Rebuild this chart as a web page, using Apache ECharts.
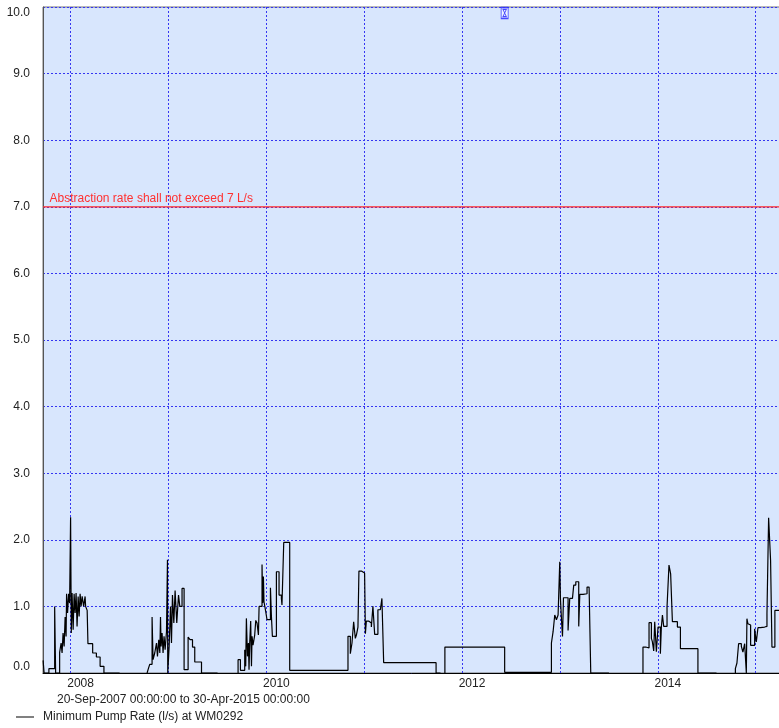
<!DOCTYPE html>
<html><head><meta charset="utf-8">
<script src="https://cdn.jsdelivr.net/npm/echarts@6/dist/echarts.min.js"></script>
<style>html,body{margin:0;padding:0;background:#fff}#c{width:779px;height:728px}</style>
</head><body><div id="c"></div><script>
const seriesName = 'Minimum Pump Rate (l/s) at WM0292';
const periodText = '20-Sep-2007 00:00:00 to 30-Apr-2015 00:00:00';
const periodStart = [2007, 9, 20];
const periodEnd = [2015, 4, 30];
const yMin = 0, yMax = 10, yStep = 1;
const xLabelYears = [2008, 2010, 2012, 2014];
const limitValue = 7;
const limitLabel = 'Abstraction rate shall not exceed 7 L/s';
const commentTimes = [2012.435];
const commentValues = [10];

// times as decimal years; null rate = no data (gap)
const pumpTimes = [
 2007.719,2007.729,2007.778,2007.837,2007.847,2007.888,2007.903,2007.913,2007.923,2007.934,
 2007.944,2007.954,2007.959,2007.969,2007.980,2007.990,2008.000,2008.007,2008.015,2008.026,
 2008.036,2008.046,2008.056,2008.066,2008.077,2008.087,2008.097,2008.107,2008.118,2008.133,
 2008.148,2008.153,2008.169,2008.177,2008.225,2008.263,2008.301,2008.340,2008.5,
 2008.780,2008.780,2008.794,2008.807,2008.831,2008.841,2008.858,2008.876,2008.886,2008.899,2008.910,
 2008.917,2008.923,2008.933,2008.943,2008.953,2008.964,2008.978,2008.988,2008.991,2009.005,
 2009.019,2009.029,2009.039,2009.053,2009.066,2009.083,2009.101,2009.114,2009.137,2009.158,
 2009.199,2009.219,2009.244,2009.267,2009.336,2009.5,
 2009.710,2009.710,2009.734,2009.778,2009.788,2009.795,2009.806,2009.816,2009.822,2009.829,2009.839,
 2009.847,2009.853,2009.863,2009.880,2009.891,2009.904,2009.918,2009.925,2009.955,2009.962,
 2009.969,2009.975,2009.993,2010.006,2010.041,2010.051,2010.061,2010.102,2010.129,2010.153,
 2010.159,2010.177,2010.238,2010.834,2010.858,2010.875,2010.892,2010.909,2010.920,2010.936,
 2010.946,2010.971,2011.004,2011.012,2011.022,2011.045,2011.073,2011.089,2011.107,2011.140,
 2011.165,2011.181,2011.199,2011.735,2011.78,
 2011.825,2011.825,2012.435,2012.912,2012.929,2012.946,2012.963,2012.980,2012.997,2013.004,
 2013.015,2013.025,2013.035,2013.082,2013.099,2013.127,2013.140,2013.161,2013.191,2013.202,
 2013.235,2013.276,2013.297,2013.314,2013.5,
 2013.848,2013.848,2013.876,2013.910,2013.934,2013.944,2013.958,2013.968,2013.985,2014.002,
 2014.026,2014.036,2014.047,2014.060,2014.094,2014.114,2014.131,2014.149,2014.200,2014.231,
 2014.410,2014.6,
 2014.793,2014.793,2014.809,2014.826,2014.854,2014.870,2014.888,2014.905,2014.911,2014.921,
 2014.939,2014.949,2014.990,2015.007,2015.024,2015.048,2015.092,2015.116,2015.133,2015.153,
 2015.167,2015.197,2015.329
];
const pumpRates = [
 0.19,0,0.065,1.0,0,0.31,0.45,0.3,0.6,0.4,
 0.84,0.55,1.19,0.9,1.19,1.05,2.34,0.6,1.2,0.65,
 1.19,0.9,1.2,0.7,1.15,0.85,1.19,1.0,1.15,1.0,
 1.15,1.0,0.94,0.44,0.3,0.24,0.1,0,null,
 0,0.03,0.07,0.13,0.84,0.2,0.3,0.45,0.25,0.5,0.3,
 0.84,0.4,0.6,0.3,0.55,0.35,0.62,1.7,0,0.4,
 1.0,0.45,1.17,0.75,1.24,0.75,1.17,1.0,1.27,0.05,
 0.54,0.5,0.39,0.165,0,null,
 0,0.2,0.04,0.35,0.1,0.82,0.25,0.45,0.05,0.45,0.78,
 0.1,0.55,0.42,0.57,0.79,0.75,0.57,1.0,1.63,1.05,
 1.45,1.07,0.92,0.8,1.28,0.85,0.55,1.52,1.17,1.12,
 1.02,1.96,0.04,0.55,0.29,0.45,0.77,0.52,0.57,0.69,
 1.53,1.5,1.49,0.59,0.78,0.75,0.69,1.0,0.58,0.95,
 0.97,1.12,0.155,0,null,
 0,0.39,0.01,0.45,0.62,0.87,0.8,0.87,1.67,1.12,
 0.79,0.55,1.13,0.64,1.12,1.1,1.32,1.37,0.7,1.18,
 1.19,1.29,1.27,0,null,
 0,0.39,0.375,0.755,0.52,0.47,0.33,0.77,0.32,0.69,
 0.29,0.69,0.87,0.7,0.99,1.62,1.49,0.77,0.69,0.365,
 0,null,
 0,0.065,0.15,0.44,0.4,0.315,0.44,0,0.815,0.74,
 0.72,0.415,0.665,0.465,0.68,0.69,0.7,0.89,2.33,1.69,
 0.39,0.94,0.94
];

function decYearToMs(d) {
  const y = Math.floor(d);
  const a = Date.UTC(y, 0, 1), b = Date.UTC(y + 1, 0, 1);
  return a + (d - y) * (b - a);
}
const xMin = Date.UTC(periodStart[0], periodStart[1] - 1, periodStart[2]);
const xMax = Date.UTC(periodEnd[0], periodEnd[1] - 1, periodEnd[2]);
const pumpData = pumpTimes.map((t, i) => [decYearToMs(t), pumpRates[i]]);
const commentData = commentTimes.map((t, i) => [decYearToMs(t), commentValues[i]]);
const limitData = [[xMin, limitValue], [xMax, limitValue]];

const FONT = '"Liberation Sans", Arial, sans-serif';
const GRID_BLUE = '#3535f2';
const chart = echarts.init(document.getElementById('c'), null, {renderer: 'canvas'});
chart.setOption({
  useUTC: true,
  animation: false,
  backgroundColor: '#ffffff',
  textStyle: {fontFamily: FONT},
  title: {
    text: periodText, left: 57, top: 694, padding: 0,
    textStyle: {fontSize: 12, fontWeight: 'normal', color: '#222', fontFamily: FONT}
  },
  legend: {
    left: 16, top: 711, padding: 0,
    icon: 'rect', itemWidth: 18, itemHeight: 1,
    itemStyle: {color: '#000'},
    textStyle: {fontSize: 12, color: '#222', fontFamily: FONT, padding: [0, 0, 0, 4]},
    data: [seriesName]
  },
  grid: {
    left: 43, width: 744.5, top: 7, height: 666,
    outerBoundsMode: 'none',
    containLabel: false,
    show: true, backgroundColor: '#d8e6fd', borderColor: '#777', borderWidth: 1
  },
  xAxis: {
    type: 'time',
    min: xMin,
    max: xMax,
    minInterval: 365 * 86400000,
    maxInterval: 366 * 86400000,
    axisLine: {show: true, lineStyle: {color: '#000', width: 1}},
    axisTick: {show: false},
    axisLabel: {
      showMinLabel: false, showMaxLabel: false,
      margin: 5, fontSize: 12, color: '#222', fontFamily: FONT,
      padding: [0, 0, 0, 20],
      formatter: function (v) {
        const d = new Date(v);
        const y = d.getUTCFullYear();
        if (d.getUTCMonth() === 0 && d.getUTCDate() === 1 && xLabelYears.indexOf(y) >= 0) return String(y);
        return '';
      }
    },
    splitLine: {show: true, lineStyle: {color: GRID_BLUE, width: 1, type: [2, 2]}}
  },
  yAxis: {
    type: 'value', min: yMin, max: yMax, interval: yStep,
    axisLine: {show: true, lineStyle: {color: '#555'}},
    axisTick: {show: false},
    axisLabel: {
      margin: 13, fontSize: 12, color: '#222', fontFamily: FONT,
      verticalAlignMinLabel: 'bottom', verticalAlignMaxLabel: 'top',
      formatter: v => v.toFixed(1)
    },
    splitLine: {show: true, lineStyle: {color: GRID_BLUE, width: 1, type: [2, 2]}}
  },
  series: [
    {
      name: seriesName, type: 'line', step: 'end',
      data: pumpData, showSymbol: false, symbol: 'none',
      connectNulls: false,
      lineStyle: {color: '#000', width: 1.2},
      itemStyle: {color: '#000'},
      z: 3
    },
    {
      name: 'limit', type: 'line', data: limitData,
      showSymbol: false, symbol: 'none', silent: true, z: 4,
      lineStyle: {color: '#ff2a2a', width: 1.2, type: 'solid'},
      itemStyle: {color: '#ff2a2a'},
      markPoint: {
        silent: true, animation: false,
        symbol: 'circle', symbolSize: 1,
        itemStyle: {color: 'rgba(0,0,0,0)'},
        data: [{coord: [xMin, limitValue]}],
        label: {
          show: true, position: [7, -14], align: 'left', verticalAlign: 'top',
          formatter: limitLabel, color: '#ff3030', fontSize: 12, fontFamily: FONT
        }
      }
    },
    {
      name: 'comment', type: 'scatter', data: commentData, clip: false,
      symbol: 'path://M0,0 L7,0 L7,11 L0,11 Z M1.8,1.8 L5.2,1.8 L3.5,5.5 Z M3.5,5.5 L5.2,9.2 L1.8,9.2 Z',
      symbolSize: [7, 11], symbolOffset: [0, 6],
      itemStyle: {color: '#f4f7ff', borderColor: '#1f1fff', borderWidth: 1},
      silent: true, z: 5
    }
  ]
});
</script></body></html>
